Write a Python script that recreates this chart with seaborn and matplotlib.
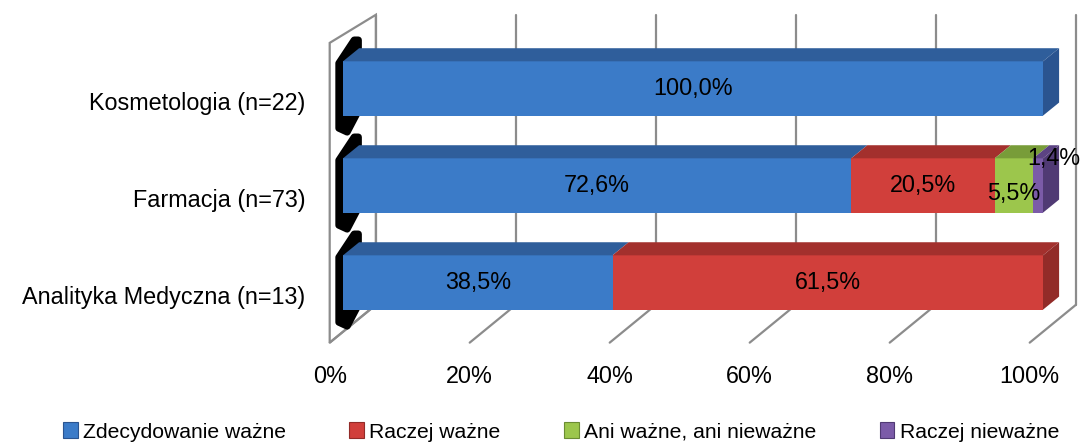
import numpy as np
import pandas as pd
import seaborn as sns
import matplotlib.pyplot as plt
from matplotlib.patches import Polygon, Patch

# dane
kategorie = ['Kosmetologia (n=22)', 'Farmacja (n=73)', 'Analityka Medyczna (n=13)']
serie = ['Zdecydowanie ważne', 'Raczej ważne', 'Ani ważne, ani nieważne', 'Raczej nieważne']
zdecydowanie = [100.0, 72.6, 38.5]
raczej = [0.0, 20.5, 61.5]
ani = [0.0, 5.5, 0.0]
raczej_nie = [0.0, 1.4, 0.0]
ticki = [0, 20, 40, 60, 80, 100]

kolory_front = ['#3B7BC8', '#D13F3B', '#9CC64C', '#7B5BA8']
kolory_gora = ['#2F5E9B', '#A3302D', '#789C39', '#5C4383']
kolory_bok = ['#2A5490', '#922B28', '#6B8C33', '#503A74']

sns.set_style('white')
plt.rcParams['font.family'] = ['Liberation Sans', 'DejaVu Sans']
plt.rcParams['text.color'] = 'black'
FS = 16.8
FS_LEG = 15.2

fig = plt.figure(figsize=(10.85, 4.48), dpi=100)
ax = fig.add_axes([0, 0, 1, 1])

wartosci = np.array([zdecydowanie, raczej, ani, raczej_nie])
cum = np.cumsum(wartosci, axis=0)
start = cum - wartosci

# geometria 3D (przesuniecia glebokosci w jednostkach danych)
h = 0.56
dx, dy = 2.3, -0.135
front_sh, back_sh = -1.9, 4.7
y_top_back, y_bot_back = -0.76, 2.23
y_top_front, y_bot_front = -0.47, 2.62

# sciana lewa + siatka
ax.add_patch(Polygon([(front_sh, y_top_front), (back_sh, y_top_back),
                      (back_sh, y_bot_back), (front_sh, y_bot_front)],
                     closed=True, fc='white', ec='#8C8C8C', lw=1.6, zorder=0))
for t in ticki:
    ax.plot([t + back_sh, t + back_sh], [y_top_back, y_bot_back], color='#8C8C8C', lw=1.6, zorder=0)
    ax.plot([t + back_sh, t + front_sh], [y_bot_back, y_bot_front], color='#8C8C8C', lw=1.6, zorder=0)
    ax.text(t + front_sh, 2.97, f'{t}%', ha='center', va='center', fontsize=FS)

# czarne "zaokraglenia" przy lewych koncach slupkow
for i in range(len(kategorie)):
    ax.add_patch(Polygon([(-0.6, i + h / 2 + 0.13), (-0.6, i - h / 2 + 0.02),
                          (1.6, i - h / 2 - 0.22), (2.2, i - h / 2 - 0.22),
                          (2.2, i + h / 2 - 0.05), (0.6, i + h / 2 + 0.17)],
                         closed=True, fc='black', ec='black', lw=5, joinstyle='round', zorder=1))

# przednie sciany slupkow (nakladanie sum narastajacych)
for k in range(len(serie) - 1, -1, -1):
    df = pd.DataFrame({'kat': kategorie, 'wart': cum[k]})
    sns.barplot(data=df, x='wart', y='kat', orient='h', color=kolory_front[k],
                saturation=1, width=h, linewidth=0, ax=ax, zorder=3)

# gorne i boczne sciany
for i in range(len(kategorie)):
    top = i - h / 2
    bot = i + h / 2
    for k in range(len(serie)):
        if wartosci[k, i] <= 0:
            continue
        a, b = start[k, i], cum[k, i]
        ax.add_patch(Polygon([(a, top), (b, top), (b + dx, top + dy), (a + dx, top + dy)],
                             closed=True, fc=kolory_gora[k], ec='none', zorder=3))
    kk = max(k for k in range(len(serie)) if wartosci[k, i] > 0)
    e = cum[kk, i]
    ax.add_patch(Polygon([(e, top), (e + dx, top + dy), (e + dx, bot + dy), (e, bot)],
                         closed=True, fc=kolory_bok[kk], ec='none', zorder=3))

# etykiety danych
for i in range(len(kategorie)):
    for k in range(len(serie)):
        v = wartosci[k, i]
        if v <= 0:
            continue
        xs = start[k, i] + v / 2
        ys = i
        if v < 2:
            xs, ys = cum[k, i] + 1.6, i - 0.28
        elif v < 10:
            ys = i + 0.08
        txt = f'{v:.1f}%'.replace('.', ',')
        ax.text(xs, ys, txt, ha='center', va='center', fontsize=FS, zorder=5)

# etykiety kategorii
for i, kat in enumerate(kategorie):
    ax.text(-5.4, i + 0.15, kat, ha='right', va='center', fontsize=FS)

ax.set_xlim(-49, 106)
ax.set_ylim(3.706, -0.912)
ax.axis('off')

uchwyty = [Patch(fc=c, ec=g, lw=0.8) for c, g in zip(kolory_front, kolory_bok)]
fig.legend(uchwyty, serie, loc='center', bbox_to_anchor=(0.517, 0.036), ncol=4,
           frameon=False, fontsize=FS_LEG, handlelength=0.7, handleheight=0.8,
           handletextpad=0.25, columnspacing=3.0, borderpad=0)

fig.savefig('out.png', dpi=100)
